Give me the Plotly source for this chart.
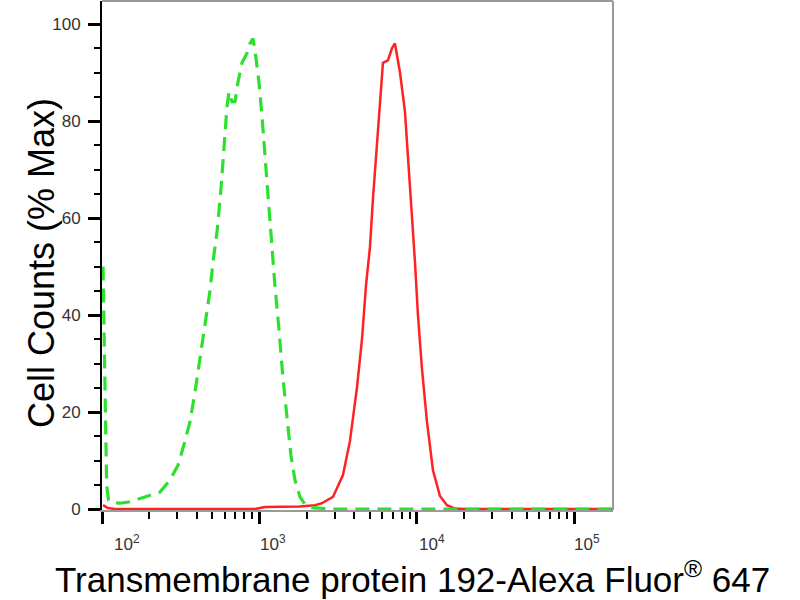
import numpy as np
import plotly.graph_objects as go

# ---- data (fluorescence intensity vs % max) ----
iso_x = [101.5, 104.5, 107, 110, 120, 130.1, 150.6, 187.6, 233.4, 270.2, 303.8, 336.5, 362, 389,
         418.8, 450.6, 485, 507, 537, 569.6, 595.3, 622, 640.4, 669, 698.9, 730.3, 774.3,
         833, 870.4, 909.5, 950.2, 992.7, 1037.3, 1083.7, 1132.4, 1183, 1254, 1330, 1410,
         1495, 1585, 1680, 1807, 1945, 2154, 2803, 7800, 33650, 175600]
iso_y = [50, 20, 5, 1.8, 1.3, 1.2, 1.5, 2.5, 3.5, 6, 9, 14, 18, 24,
         31, 37, 45, 51, 57, 66, 75, 83, 86, 84, 84, 88, 92,
         94, 96, 97, 93, 88, 81, 73, 64, 56, 46, 37, 27,
         19, 11, 6, 2.5, 1, 0.3, 0, 0, 0, 0]

ab_x = [101.5, 109.2, 120.9, 936, 1083.7, 1807, 2251, 2494, 2929, 3390, 3754, 4159, 4476,
        4745, 5030, 5256, 5655, 5907, 6082, 6544, 6938, 7251, 7803, 8390, 8768, 9296,
        9712, 10146, 10757, 11576, 12637, 13996, 15506, 17430, 20170, 175600]
ab_y = [0.8, 0.2, 0, 0, 0.4, 0.5, 0.8, 1.2, 2.5, 7, 14, 25, 35,
        46, 54, 64, 78, 87, 92, 92.5, 95, 96, 90, 82, 73, 62,
        51, 40, 29, 18, 8, 2.7, 0.8, 0.1, 0, 0]

y_ticks = [0, 20, 40, 60, 80, 100]
x_major = [100, 1000, 10000, 100000]
x_major_text = ["10<sup>2</sup>", "10<sup>3</sup>", "10<sup>4</sup>", "10<sup>5</sup>"]
x_minor = [m * d for d in (100, 1000, 10000) for m in range(2, 10)]

x_title = "Transmembrane protein 192-Alexa Fluor<sup>®</sup> 647"
y_title = "Cell Counts (% Max)"

TICKFONT = "Liberation Sans Narrow, Arial Narrow, Liberation Sans, Arial, sans-serif"
SANS = "Liberation Sans, Arial, sans-serif"

fig = go.Figure()
fig.add_trace(go.Scatter(x=ab_x, y=ab_y, mode="lines",
                         line=dict(color="#ff2222", width=2.5), showlegend=False))
fig.add_trace(go.Scatter(x=iso_x, y=iso_y, mode="lines",
                         line=dict(color="#2ee02e", width=3.2, dash="14px,8px"),
                         showlegend=False))

fig.update_layout(
    width=800, height=600,
    margin=dict(l=102, r=187, t=1, b=90, autoexpand=False),
    paper_bgcolor="white", plot_bgcolor="white",
    xaxis=dict(type="log", range=[2.0, 5.245], showgrid=False, zeroline=False,
               showline=True, linecolor="#9a9a9a", linewidth=1.5,
               ticks="outside", ticklen=12, tickwidth=3, tickcolor="black",
               tickmode="array", tickvals=x_major, showticklabels=False,
               minor=dict(tickmode="array", tickvals=x_minor, ticks="outside",
                          ticklen=7, tickwidth=2, tickcolor="black")),
    yaxis=dict(range=[-0.2, 104.75], showgrid=False, zeroline=False,
               showline=True, linecolor="black", linewidth=2,
               ticks="outside", ticklen=12, tickwidth=3, tickcolor="black",
               tickmode="array", tickvals=y_ticks,
               ticklabelstandoff=4,
               tickfont=dict(family=TICKFONT, size=17, color="#333333"),
               minor=dict(dtick=5, ticks="outside", ticklen=6, tickwidth=2,
                          tickcolor="black")),
)

# frame (top / right)
fig.add_shape(type="line", xref="paper", yref="paper", x0=0, x1=1, y0=1, y1=1,
              line=dict(color="#9a9a9a", width=2))
fig.add_shape(type="line", xref="paper", yref="paper", x0=1, x1=1, y0=0, y1=1,
              line=dict(color="#9a9a9a", width=2))

shifts = [25, 14, 15, 13]
for v, t, s in zip(x_major, x_major_text, shifts):
    fig.add_annotation(x=np.log10(v), y=0, xref="x", yref="paper", text=t,
                       showarrow=False, xanchor="center", yanchor="top",
                       xshift=s, yshift=-20,
                       font=dict(family=TICKFONT, size=17, color="#333333"))

fig.add_annotation(x=(412 - 102) / 511, y=(510 - 577) / 509, xref="paper", yref="paper",
                   text=x_title, showarrow=False, xanchor="center", yanchor="middle",
                   font=dict(family=SANS, size=35, color="black"))
fig.add_annotation(x=(42 - 102) / 511, y=(510 - 263) / 509, xref="paper", yref="paper",
                   text=y_title, showarrow=False, textangle=-90,
                   xanchor="center", yanchor="middle",
                   font=dict(family=SANS, size=36, color="black"))

fig.write_html("out.html", config={"displayModeBar": False},
               post_script="document.body.style.margin='0px';")
